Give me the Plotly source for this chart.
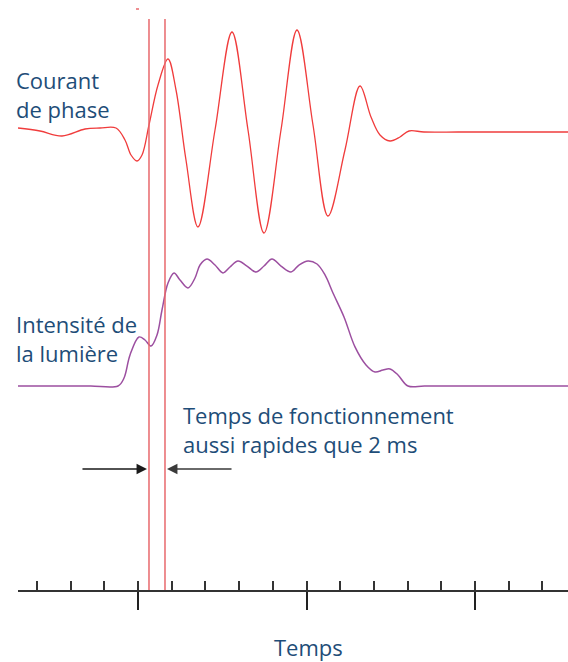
import plotly.graph_objects as go

# Time axis in minor-tick units (major tick every 5 units)
current_t = [-3.561, -2.908, -2.255, -1.573, -1.128, -0.653, -0.386, -0.208, -0.030, 0.119,
             0.326, 0.593, 0.890, 1.128, 1.424, 1.780, 2.285, 2.789, 3.264, 3.739,
             4.243, 4.718, 5.193, 5.638, 6.142, 6.588, 6.914, 7.181, 7.478, 7.774,
             8.042, 8.487, 9.5, 10.5, 11.5, 12.760]
current_v = [0.02, -0.01, -0.06, 0.01, 0.02, 0.02, -0.10, -0.25, -0.31, -0.25,
             0.05, 0.45, 0.71, 0.40, -0.30, -0.97, 0.00, 0.98, 0.00, -1.03,
             0.00, 1.00, 0.05, -0.86, -0.20, 0.44, 0.13, -0.05, -0.11, -0.07,
             -0.01, -0.02, -0.02, -0.02, -0.02, -0.02]

light_t = [-3.561, -3.0, -2.2, -1.4, -0.593, -0.415, -0.237, 0.030, 0.208, 0.386, 0.564,
           0.712, 0.890, 1.068, 1.246, 1.484, 1.691, 1.840, 2.047, 2.285, 2.522,
           2.730, 2.967, 3.234, 3.501, 3.739, 3.976, 4.243, 4.540, 4.777, 5.045,
           5.312, 5.549, 5.786, 6.113, 6.439, 6.766, 7.033, 7.270, 7.478, 7.715,
           8.012, 8.5, 9.5, 10.5, 11.5, 12.760]
light_v = [0.0, 0.0, 0.0, 0.0, 0.0, 0.063, 0.246, 0.389, 0.365, 0.317, 0.405,
           0.603, 0.817, 0.897, 0.841, 0.778, 0.857, 0.960, 1.008, 0.960, 0.897,
           0.944, 0.992, 0.952, 0.905, 0.952, 1.008, 0.952, 0.905, 0.960, 0.992,
           0.968, 0.881, 0.738, 0.548, 0.310, 0.167, 0.111, 0.127, 0.135, 0.087,
           0.0, 0.0, 0.0, 0.0, 0.0, 0.0]

operate_marks = [0.326, 0.801]

label_current = "Courant<br>de phase"
label_light = "Intensité de<br>la lumière"
label_note = "Temps de fonctionnement<br>aussi rapides que 2 ms"
label_axis = "Temps"

TEXT = "#1e4d78"
FONT = "Open Sans"
FS = 22

fig = go.Figure()
fig.add_trace(go.Scatter(x=current_t, y=current_v, mode="lines",
                         line=dict(color="#f03c3c", width=1.3, shape="spline", smoothing=1.0),
                         yaxis="y", hoverinfo="skip"))
fig.add_trace(go.Scatter(x=light_t, y=light_v, mode="lines",
                         line=dict(color="#9c4fa0", width=1.5, shape="spline", smoothing=1.0),
                         yaxis="y2", hoverinfo="skip"))

for xm in operate_marks:
    fig.add_shape(type="line", xref="x", yref="paper", x0=xm, x1=xm, y0=0, y1=0.968,
                  line=dict(color="#e8686c", width=1.5))

# tiny red mark at top
fig.add_shape(type="line", xref="paper", yref="paper", x0=(136 - 18) / 550, x1=(139 - 18) / 550,
              y0=(590 - 9) / 590, y1=(590 - 9) / 590, line=dict(color="#e8686c", width=1.5))

ann = []
ann.append(dict(text=label_current, xref="paper", yref="paper", x=(14 - 18) / 550, y=(590 - 94) / 590,
                xanchor="left", yanchor="middle", align="left", showarrow=False,
                font=dict(family=FONT, size=FS, color=TEXT)))
ann.append(dict(text=label_light, xref="paper", yref="paper", x=(14 - 18) / 550, y=(590 - 339) / 590,
                xanchor="left", yanchor="middle", align="left", showarrow=False,
                font=dict(family=FONT, size=FS, color=TEXT)))
ann.append(dict(text=label_note, xref="paper", yref="paper", x=(181 - 18) / 550, y=(590 - 429) / 590,
                xanchor="left", yanchor="middle", align="left", showarrow=False,
                font=dict(family=FONT, size=FS, color=TEXT)))
ann.append(dict(text=label_axis, xref="paper", yref="paper", x=(308 - 18) / 550, y=(590 - 647) / 590,
                xanchor="center", yanchor="middle", align="center", showarrow=False,
                font=dict(family=FONT, size=FS, color=TEXT)))
# arrows
ann.append(dict(text="", xref="x", yref="paper", x=operate_marks[0] - 0.06, y=(590 - 469) / 590,
                ax=-66, ay=0, axref="pixel", ayref="pixel", showarrow=True,
                arrowhead=2, arrowsize=1.6, arrowwidth=1.3, arrowcolor="#1a1a1a"))
ann.append(dict(text="", xref="x", yref="paper", x=operate_marks[1] + 0.06, y=(590 - 469) / 590,
                ax=66, ay=0, axref="pixel", ayref="pixel", showarrow=True,
                arrowhead=2, arrowsize=1.6, arrowwidth=1.3, arrowcolor="#3a3a3a"))

fig.update_layout(
    width=568, height=662,
    margin=dict(l=18, r=0, t=0, b=72),
    paper_bgcolor="white", plot_bgcolor="white",
    showlegend=False,
    annotations=ann,
    xaxis=dict(range=[-3.561, 12.76], showgrid=False, zeroline=False,
               showline=True, linecolor="#333333", linewidth=1.5,
               ticks="outside", ticklen=18, tickwidth=1.5, tickcolor="#222222",
               tick0=0, dtick=5, showticklabels=False,
               minor=dict(ticks="inside", ticklen=9, tickwidth=1.5, tickcolor="#333333",
                          dtick=1, showgrid=False),
               fixedrange=True),
    yaxis=dict(range=[-4.6, 1.3], visible=False, fixedrange=True),
    yaxis2=dict(range=[-1.619, 3.063], visible=False, overlaying="y", fixedrange=True),
)

fig.write_html("out.html", config={"displayModeBar": False},
               post_script="document.body.style.margin='0';document.body.style.padding='0';")
